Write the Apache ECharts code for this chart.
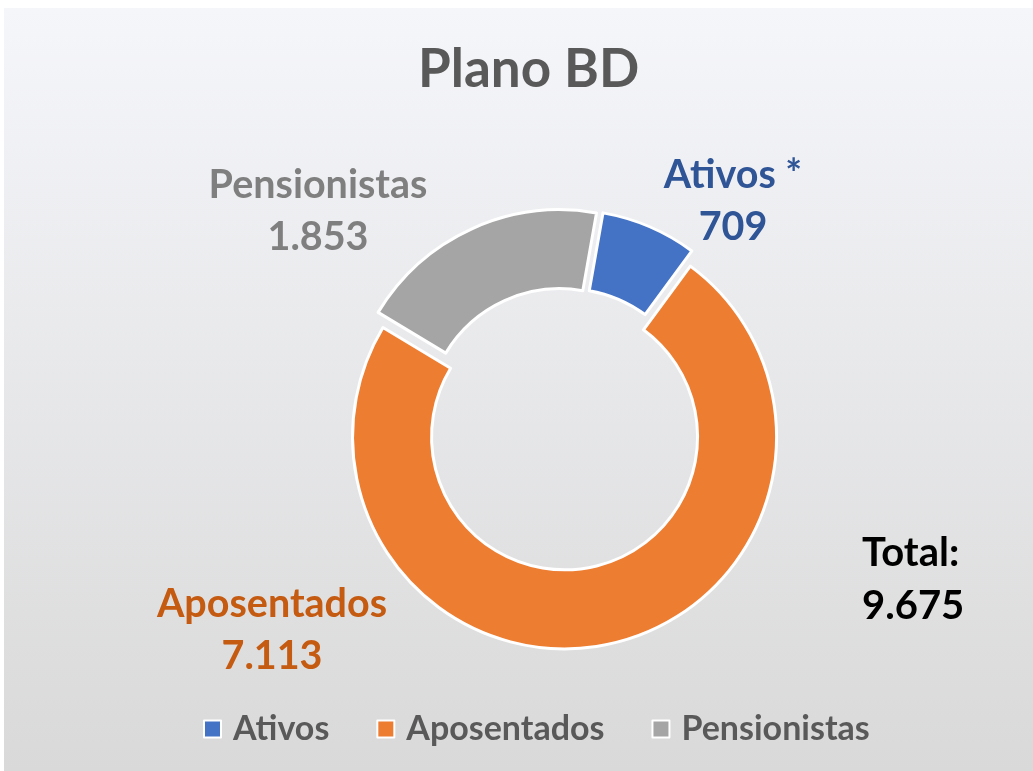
<!DOCTYPE html>
<html>
<head>
<meta charset="utf-8">
<script src="https://cdn.jsdelivr.net/npm/echarts@6/dist/echarts.min.js"></script>
<style>
html,body{margin:0;padding:0;background:#fff}
#main{position:absolute;left:4px;top:8px;width:1029px;height:763px}
</style>
</head>
<body>
<div id="main"></div>
<script>
// dados do grafico
var categorias = ['Ativos', 'Aposentados', 'Pensionistas']
var rotulos = ['Ativos *', 'Aposentados', 'Pensionistas']
var valores = [709, 7113, 1853]
var cores = ['#4472c4', '#ed7d31', '#a5a5a5']
var coresRotulo = ['#2f5597', '#c55a11', '#7f7f7f']

var fonte = 'Lato'

// formata 1853 -> 1.853
function fmt(v){
	return String(v).replace(/\B(?=(\d{3})+(?!\d))/g, '.')
}

var total = 0
for (var k = 0; k < valores.length; k++) total += valores[k]

// posicao dos rotulos (centro), coord. do div
var posRotulo = [[729, 193], [268, 622], [314, 203]]

var dados = []
var textos = []
for (var i = 0; i < categorias.length; i++){
	dados.push({
		name: categorias[i],
		value: valores[i],
		selected: true,
		itemStyle: { color: cores[i] }
	})
	// rotulo de cada fatia
	textos.push({
		type: 'text',
		x: posRotulo[i][0],
		y: posRotulo[i][1],
		style: {
			text: rotulos[i] + '\n' + fmt(valores[i]),
			font: 'bold 39.5px ' + fonte,
			fill: coresRotulo[i],
			align: 'center',
			verticalAlign: 'middle',
			lineHeight: 52
		}
	})
}

// total
textos.push({
	type: 'text',
	x: 858,
	y: 519,
	style: {
		text: 'Total:\n' + fmt(total),
		font: 'bold 40px ' + fonte,
		fill: '#000',
		lineHeight: 53
	}
})

var chart = echarts.init(document.getElementById('main'))
chart.setOption({
	backgroundColor: new echarts.graphic.LinearGradient(0, 0, 0, 1, [
		{ offset: 0, color: '#f5f6fa' },
		{ offset: 1, color: '#d9d9d9' }
	]),
	title: {
		text: 'Plano BD',
		left: 409,
		top: 30,
		textStyle: { fontFamily: fonte, fontSize: 53, fontWeight: 'bold', color: '#595959' }
	},
	legend: {
		data: categorias,
		left: 194,
		top: 699,
		icon: 'rect',
		itemWidth: 17,
		itemHeight: 17,
		itemGap: 47,
		selectedMode: false,
		itemStyle: { borderColor: '#fff', borderWidth: 2 },
		textStyle: { fontFamily: fonte, fontSize: 34, fontWeight: 'bold', color: '#595959', padding: [0, 0, 0, 7] }
	},
	graphic: textos,
	series: [{
		type: 'pie',
		center: [559, 421],
		radius: [133, 212],
		startAngle: 80,
		selectedMode: 'multiple',
		selectedOffset: 8,
		animation: false,
		itemStyle: { borderColor: '#fff', borderWidth: 3 },
		emphasis: { disabled: true },
		label: { show: false },
		labelLine: { show: false },
		data: dados
	}]
})
</script>
</body>
</html>
